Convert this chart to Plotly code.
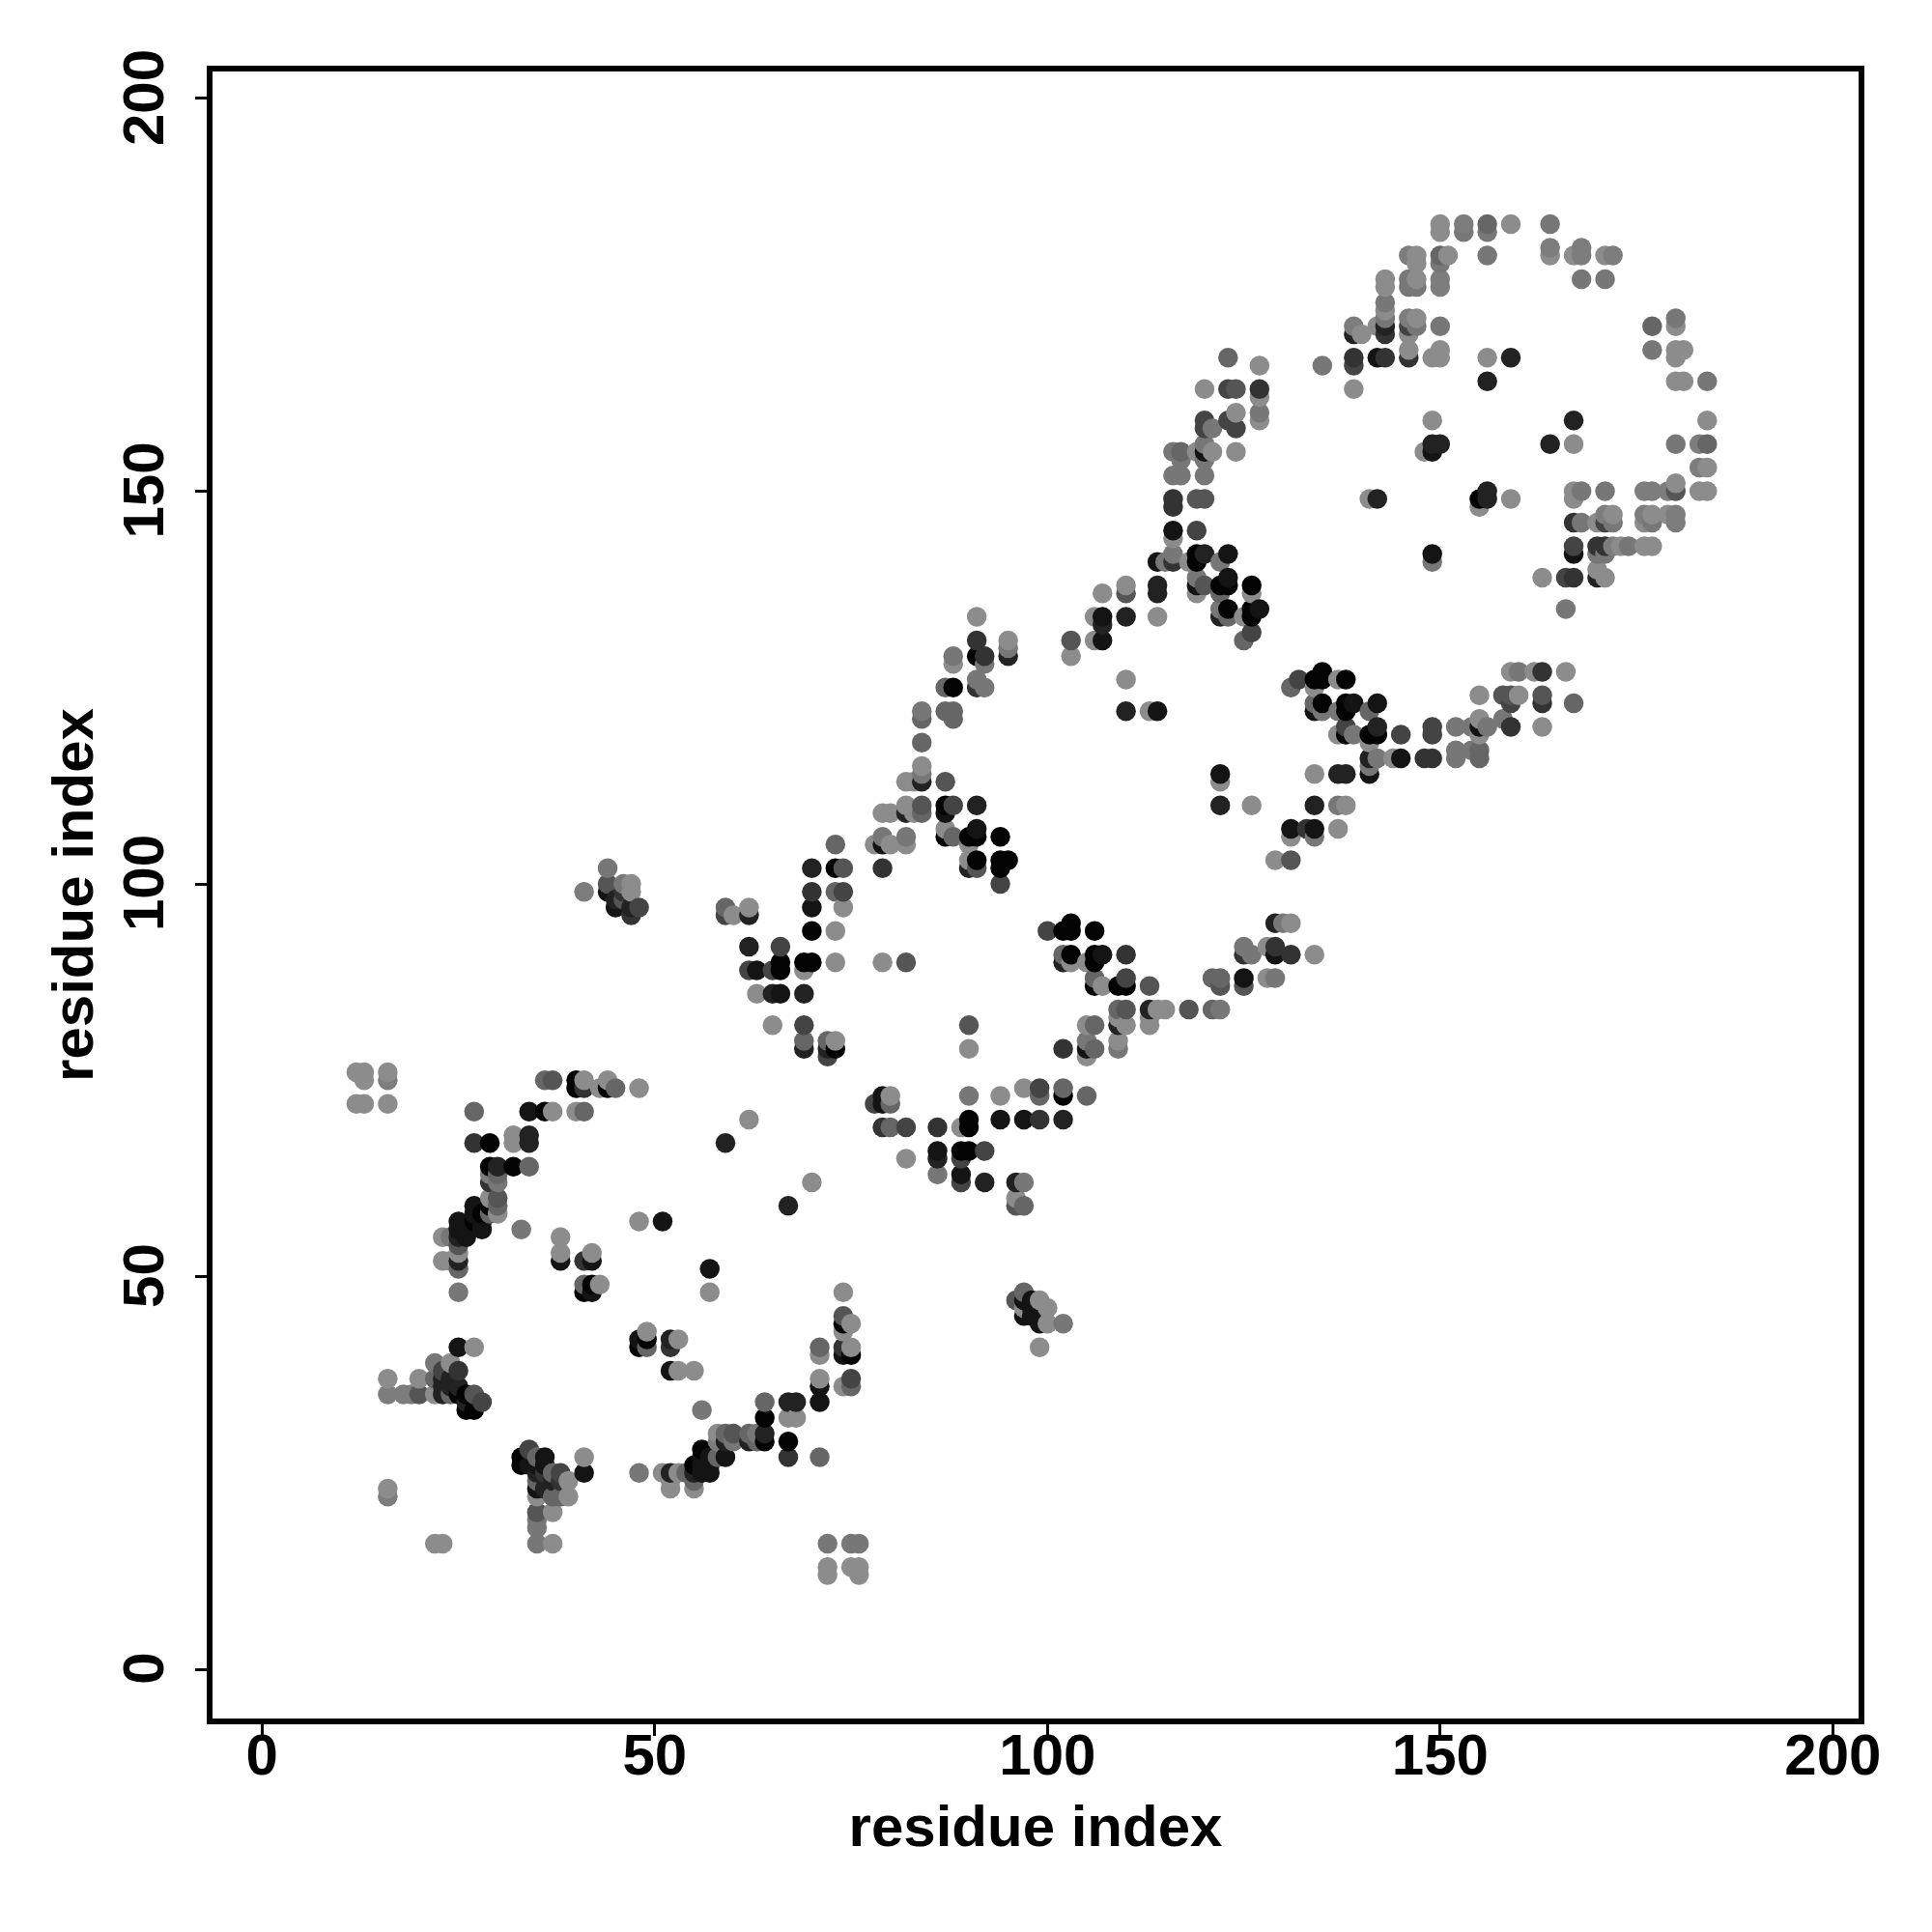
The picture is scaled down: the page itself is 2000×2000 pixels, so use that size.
import plotly.graph_objects as go

# residue pairs, grouped by the grey level of the dot
x_g140 = [12,13,13,16,12,13,16,41,43,44, 48,37,40,32,32,29,30,25,23,23,
          24,38,38,42,43,48,57,27,24,16, 20,22,49,53,53,55,39,35,39,37,
          37,41,16,22,23,51,53,52,55,52, 58,67,68,71,71,75,74,74,75,74,
          72,72,75,76,76,74,73,60,62,69, 73,79,63,65,73,90,94,97,80,78,
          80,82,87,90,90,103,91,95,88,84, 82,83,82,83,80,79,103,106,106,114,
          110,113,122,126,127,139,120,127,127,124, 119,121,124,116,118,119,126,125,141,134,
          137,137,141,155,155,155,160,163,159,162, 166,144,134,138,131,137,129,131,105,107,
          109,110,114,115,113,113,105,105,109,128, 128,134,89,82,96,97,99,100,100,99,
          150,150,159,164,167,171,147,147,151,143, 143,147,143,140,142,147,146,149,150,150,
          156,180,180,180,181,180,181,149,148,167, 184,184,146,155,159,167,167,180,183,184,
          170,172,176,177,179,173,176,177,163,170, 171,47,47,62,70,107,110]
y_g140 = [76,76,75,76,72,72,72,75,74,75, 74,71,71,68,67,60,58,53,55,52,
          52,55,53,53,49,57,48,41,39,37, 37,35,43,42,38,38,24,22,22,20,
          16,27,23,16,16,25,25,23,23,24, 30,32,32,37,40,41,36,43,44,48,
          13,12,13,13,12,97,94,96,97,89, 90,90,86,82,80,79,73,74,73,105,
          105,105,107,105,103,90,134,131,128,115, 113,113,110,109,109,109,129,134,131,134,
          126,122,113,110,166,163,163,162,159,160, 155,155,155,144,141,137,137,134,149,125,
          126,119,118,121,119,124,124,120,127,127, 127,116,114,110,106,107,103,95,90,87,
          83,82,84,84,83,82,82,78,80,88, 92,91,69,65,60,46,47,46,44,41,
          184,183,184,180,180,180,180,179,180,177, 176,177,173,170,171,172,170,167,168,167,
          167,171,168,167,168,164,164,159,155,156, 159,153,168,148,149,150,149,151,150,150,
          146,147,146,147,147,143,143,143,139,140, 139,100,99,70,62,137,138]

x_g125 = [16,16,29,58,16,18,19,153,164,168, 168,172,146,150,150,139,146,183,183,176,
          177,179,171,176,180,180,172,41]
y_g125 = [75,22,63,29,35,35,35,184,181,181, 180,180,180,177,176,171,172,156,153,150,
          150,150,147,147,147,146,143,99]

x_g119 = [30,24,25,33,22,56,35,35,35,48, 60,63,72,75,76,90,79,82,95,88,
          92,91,92,84,84,135,127,121,116,117, 120,120,116,117,120,115,116,122,119,122,
          135,137,139,152,154,156,158,160,142,141, 152,152,154,137,134,130,122,105,109,129,
          125,126,86,97,102,153,156,164,168,171, 156,150,146,146,147,143,143,147,150,177,
          180,184,180,149,168,171,168,172,177,170, 171,174,166,44,46]
y_g119 = [62,55,48,56,39,33,19,18,16,25, 29,30,16,16,16,73,106,106,130,129,
          128,126,125,122,114,166,160,158,155,154, 156,154,152,152,152,141,142,141,139,135,
          122,122,119,120,120,120,121,127,116,115, 117,116,117,110,106,95,84,80,79,88,
          92,91,63,62,44,183,183,184,177,177, 180,179,177,176,176,174,172,171,171,168,
          172,164,156,141,150,150,146,146,146,142, 142,143,135,102,100]

x_g102 = [27,36,45,41,34,30,30,29,25,41, 49,22,24,35,37,35,37,38,54,55,
          58,59,62,63,64,71,71,75,73,73, 59,69,72,99,102,80,88,102,87,84,
          87,88,88,84,84,123,117,122,123,125, 131,134,141,167,155,155,109,121,122,121,
          106,106,106,105,80,97,97,156,150,177, 184]
y_g102 = [71,75,74,71,64,63,59,58,51,49, 41,37,35,27,25,24,22,22,25,24,
          27,30,30,29,34,27,41,36,105,99, 97,80,80,73,74,72,106,91,125,121,
          122,122,121,118,109,167,155,137,134,131, 125,123,122,123,117,116,84,88,88,84,
          88,82,79,73,69,59,48,184,180,171, 156]

x_g85 = [37,30,25,20,27,35,74,60,82,74, 91,87,84,103,124,119,120,120,158,159,
         163,131,110,113,118,125,122,96,96,180, 44,46,110,90]
y_g85 = [75,60,54,35,35,20,45,30,90,102, 102,113,110,131,163,149,149,138,124,124,
         124,103,84,87,84,87,87,59,47,150, 100,98,137,82]

x_g68 = [34,38,23,28,75,74,59,66,62,65, 69,72,99,78,94,100,88,139,123,123,
         124,120,120,119,126,132,138,145,149,149, 159,110,82,89,89,92,146,171,167,166,
         48]
y_g68 = [28,25,38,34,37,99,96,92,89,89, 82,78,74,72,100,94,110,166,163,159,
         158,159,158,145,132,126,120,119,120,119, 123,88,69,65,62,66,171,146,143,139,
         97]

x_g51 = [27,41,29,41,25,52,36,38,67,74, 70,79,102,91,92,91,116,116,116,139,
         143,146,127,133,148,149,159,163,163,110, 131,129,125,79,86,99,143,167,170,171,
         167,46,47]
y_g51 = [67,74,62,52,38,41,25,24,27,41, 99,102,79,131,129,125,149,148,141,167,
         167,167,163,107,116,116,120,127,123,91, 91,92,91,69,69,70,170,146,143,143,
         139,99,96]

x_g34 = [34,34,30,25,25,23,23,23,24,24, 25,26,52,36,37,35,55,52,59,62,
         64,67,68,70,62,62,65,69,69,72, 90,102,95,84,82,91,107,110,110,122,
         120,114,114,122,142,138,137,134,142,141, 129,113,109,102,86,92,96,143,139,159,
         156,149,150,167,164,156,156,170,45,47, 59,67]
y_g34 = [68,67,64,55,52,35,37,36,37,36, 36,34,42,23,24,25,25,25,29,29,
         30,34,34,102,96,92,86,86,79,79, 102,90,129,113,109,110,133,134,122,110,
         142,138,137,134,149,114,114,110,120,116, 95,84,82,70,65,62,62,171,170,167,
         164,156,156,159,156,150,149,139,98,97, 67,59]

x_g20 = [34,27,28,28,27,26,26,25,25,38, 42,42,51,57,25,48,52,36,34,35,
         36,35,41,56,56,57,57,57,56,59, 71,71,74,70,63,66,79,79,79,91,
         87,107,107,114,122,142,120,116,114,123, 119,123,127,134,139,142,155,141,145,131,
         134,129,105,125,107,94,97,86,89,97, 97,98,98,98,99,149,149,167,44,45]
y_g20 = [71,59,57,56,58,56,55,57,56,52, 52,48,57,51,41,42,38,27,26,26,
         26,23,25,27,26,27,26,25,25,27, 34,36,40,97,89,86,73,72,105,107,
         109,134,131,122,114,167,155,145,141,142, 138,139,135,122,123,123,120,114,116,107,
         107,91,79,88,91,70,70,66,63,47, 45,47,46,45,44,155,142,142,99,97]

x_g4 = [40,40,44,36,29,29,32,29,28,27, 41,42,49,48,25,26,26,27,33,33,
        55,56,64,64,67,75,74,73,70,66, 66,69,70,73,102,87,90,91,94,91,
        94,95,94,102,103,103,103,91,88,87, 119,119,122,123,126,123,126,126,134,135,
        135,138,135,138,138,138,141,142,106,106, 106,106,109,110,90,90,89,90,155]
y_g4 = [75,74,74,71,67,64,64,59,58,57, 48,49,42,41,35,35,33,33,27,26,
        26,28,29,32,29,40,44,102,94,90, 89,90,90,79,73,106,106,106,106,103,
        103,103,102,94,95,94,91,129,125,110, 142,141,138,138,138,135,135,134,126,127,
        126,126,123,123,122,119,119,119,94,91, 90,87,87,87,70,69,66,66,149]

bands = [(140, x_g140, y_g140), (125, x_g125, y_g125), (119, x_g119, y_g119),
         (102, x_g102, y_g102), (85, x_g85, y_g85), (68, x_g68, y_g68),
         (51, x_g51, y_g51), (34, x_g34, y_g34), (20, x_g20, y_g20), (4, x_g4, y_g4)]

# dots are painted column by column, bottom to top, as in the reference
dots = {}
for level, xs, ys in bands:
    for a, b in zip(xs, ys):
        dots.setdefault((a, b), level)
keys = sorted(dots)

tick_values = [0, 50, 100, 150, 200]
axis_title = "residue index"
font = dict(family="Liberation Sans", size=60, color="black")

fig = go.Figure(go.Scatter(
    x=[k[0] for k in keys],
    y=[k[1] for k in keys],
    mode="markers",
    marker=dict(size=20.5, line=dict(width=0),
                color=[f"rgb({dots[k]},{dots[k]},{dots[k]})" for k in keys]),
    hoverinfo="x+y",
))
axis = dict(
    tickvals=tick_values, ticks="outside", ticklen=12, tickwidth=3, tickcolor="black",
    showline=True, linecolor="black", linewidth=6, mirror=True,
    showgrid=False, zeroline=False,
    tickfont=dict(family="Liberation Sans", size=60, color="black", weight="bold"),
)
fig.update_layout(
    width=2000, height=2000, autosize=False,
    margin=dict(l=212, r=84, t=66, b=229, pad=0),
    paper_bgcolor="white", plot_bgcolor="white", showlegend=False,
    xaxis=dict(axis, range=[-6.31, 203.28], ticklabelstandoff=-32,
               title=dict(text=f"<b>{axis_title}</b>", font=font, standoff=22)),
    yaxis=dict(axis, range=[-6.27, 203.44], tickangle=-90, ticklabelstandoff=9,
               ticklabelshift=8,
               title=dict(text=f"<b>{axis_title}</b>", font=font, standoff=1)),
)
fig.write_html("out.html", config=dict(displayModeBar=False))
